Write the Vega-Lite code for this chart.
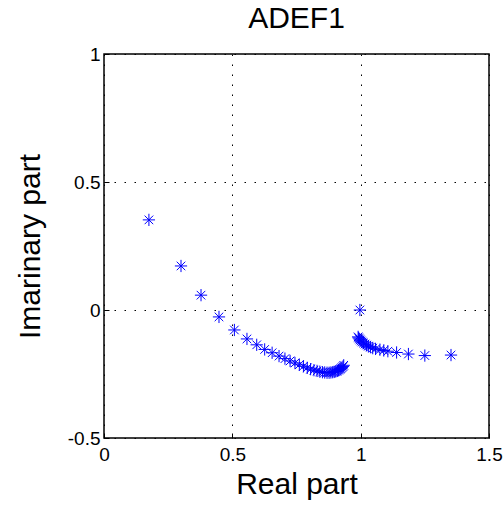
{
  "$schema": "https://vega.github.io/schema/vega-lite/v6.json",
  "width": 385,
  "height": 384,
  "autosize": "none",
  "padding": {"left": 104, "top": 54, "right": 15, "bottom": 68},
  "background": "white",
  "config": {
    "font": "Liberation Sans",
    "view": {"stroke": "black", "strokeWidth": 1.5},
    "axis": {
      "domain": false,
      "grid": true,
      "gridColor": "black",
      "gridDash": [1.5, 8.5],
      "gridWidth": 1,
      "gridOpacity": 1,
      "ticks": true,
      "tickSize": -5,
      "tickColor": "black",
      "labelFont": "Liberation Sans",
      "labelFontSize": 19,
      "labelColor": "black",
      "titleFont": "Liberation Sans",
      "titleFontSize": 30,
      "titleFontWeight": "normal",
      "titleColor": "black"
    }
  },
  "title": {
    "text": "ADEF1",
    "font": "Liberation Sans",
    "fontSize": 30,
    "fontWeight": "normal",
    "color": "black",
    "offset": 11
  },
  "data": {
    "values": [
      {"re": 0.175, "im": 0.352},
      {"re": 0.300, "im": 0.172},
      {"re": 0.378, "im": 0.058},
      {"re": 0.448, "im": -0.027},
      {"re": 0.508, "im": -0.078},
      {"re": 0.557, "im": -0.113},
      {"re": 0.595, "im": -0.136},
      {"re": 0.626, "im": -0.154},
      {"re": 0.655, "im": -0.167},
      {"re": 0.682, "im": -0.180},
      {"re": 0.705, "im": -0.190},
      {"re": 0.725, "im": -0.199},
      {"re": 0.744, "im": -0.207},
      {"re": 0.761, "im": -0.214},
      {"re": 0.777, "im": -0.220},
      {"re": 0.792, "im": -0.226},
      {"re": 0.805, "im": -0.231},
      {"re": 0.818, "im": -0.235},
      {"re": 0.830, "im": -0.238},
      {"re": 0.841, "im": -0.241},
      {"re": 0.851, "im": -0.243},
      {"re": 0.860, "im": -0.244},
      {"re": 0.869, "im": -0.245},
      {"re": 0.877, "im": -0.245},
      {"re": 0.884, "im": -0.244},
      {"re": 0.891, "im": -0.243},
      {"re": 0.897, "im": -0.242},
      {"re": 0.903, "im": -0.240},
      {"re": 0.909, "im": -0.238},
      {"re": 0.914, "im": -0.235},
      {"re": 0.919, "im": -0.232},
      {"re": 0.923, "im": -0.229},
      {"re": 0.927, "im": -0.225},
      {"re": 0.931, "im": -0.221},
      {"re": 0.934, "im": -0.216},
      {"re": 0.997, "im": 0.000},
      {"re": 0.990, "im": -0.105},
      {"re": 0.992, "im": -0.109},
      {"re": 0.995, "im": -0.113},
      {"re": 0.998, "im": -0.117},
      {"re": 1.002, "im": -0.121},
      {"re": 1.006, "im": -0.125},
      {"re": 1.011, "im": -0.129},
      {"re": 1.017, "im": -0.133},
      {"re": 1.023, "im": -0.137},
      {"re": 1.030, "im": -0.141},
      {"re": 1.038, "im": -0.145},
      {"re": 1.047, "im": -0.149},
      {"re": 1.058, "im": -0.152},
      {"re": 1.075, "im": -0.155},
      {"re": 1.090, "im": -0.158},
      {"re": 1.106, "im": -0.161},
      {"re": 1.140, "im": -0.166},
      {"re": 1.186, "im": -0.172},
      {"re": 1.250, "im": -0.178},
      {"re": 1.352, "im": -0.176}
    ]
  },
  "mark": {
    "type": "point",
    "shape": "M-1,0L1,0M0,-1L0,1M-0.7,-0.7L0.7,0.7M-0.7,0.7L0.7,-0.7",
    "filled": false,
    "stroke": "#0000ff",
    "strokeWidth": 1,
    "size": 150,
    "opacity": 1
  },
  "encoding": {
    "x": {
      "field": "re",
      "type": "quantitative",
      "scale": {"domain": [0, 1.5], "nice": false, "zero": false},
      "axis": {"values": [0, 0.5, 1, 1.5], "title": "Real part", "labelPadding": 12, "titlePadding": 5, "labelFlush": false, "labelExpr": "datum.value"}
    },
    "y": {
      "field": "im",
      "type": "quantitative",
      "scale": {"domain": [-0.5, 1], "nice": false, "zero": false},
      "axis": {"values": [-0.5, 0, 0.5, 1], "title": "Imarinary part", "labelPadding": 9, "titlePadding": 22, "labelFlush": false, "labelExpr": "datum.value"}
    }
  }
}
